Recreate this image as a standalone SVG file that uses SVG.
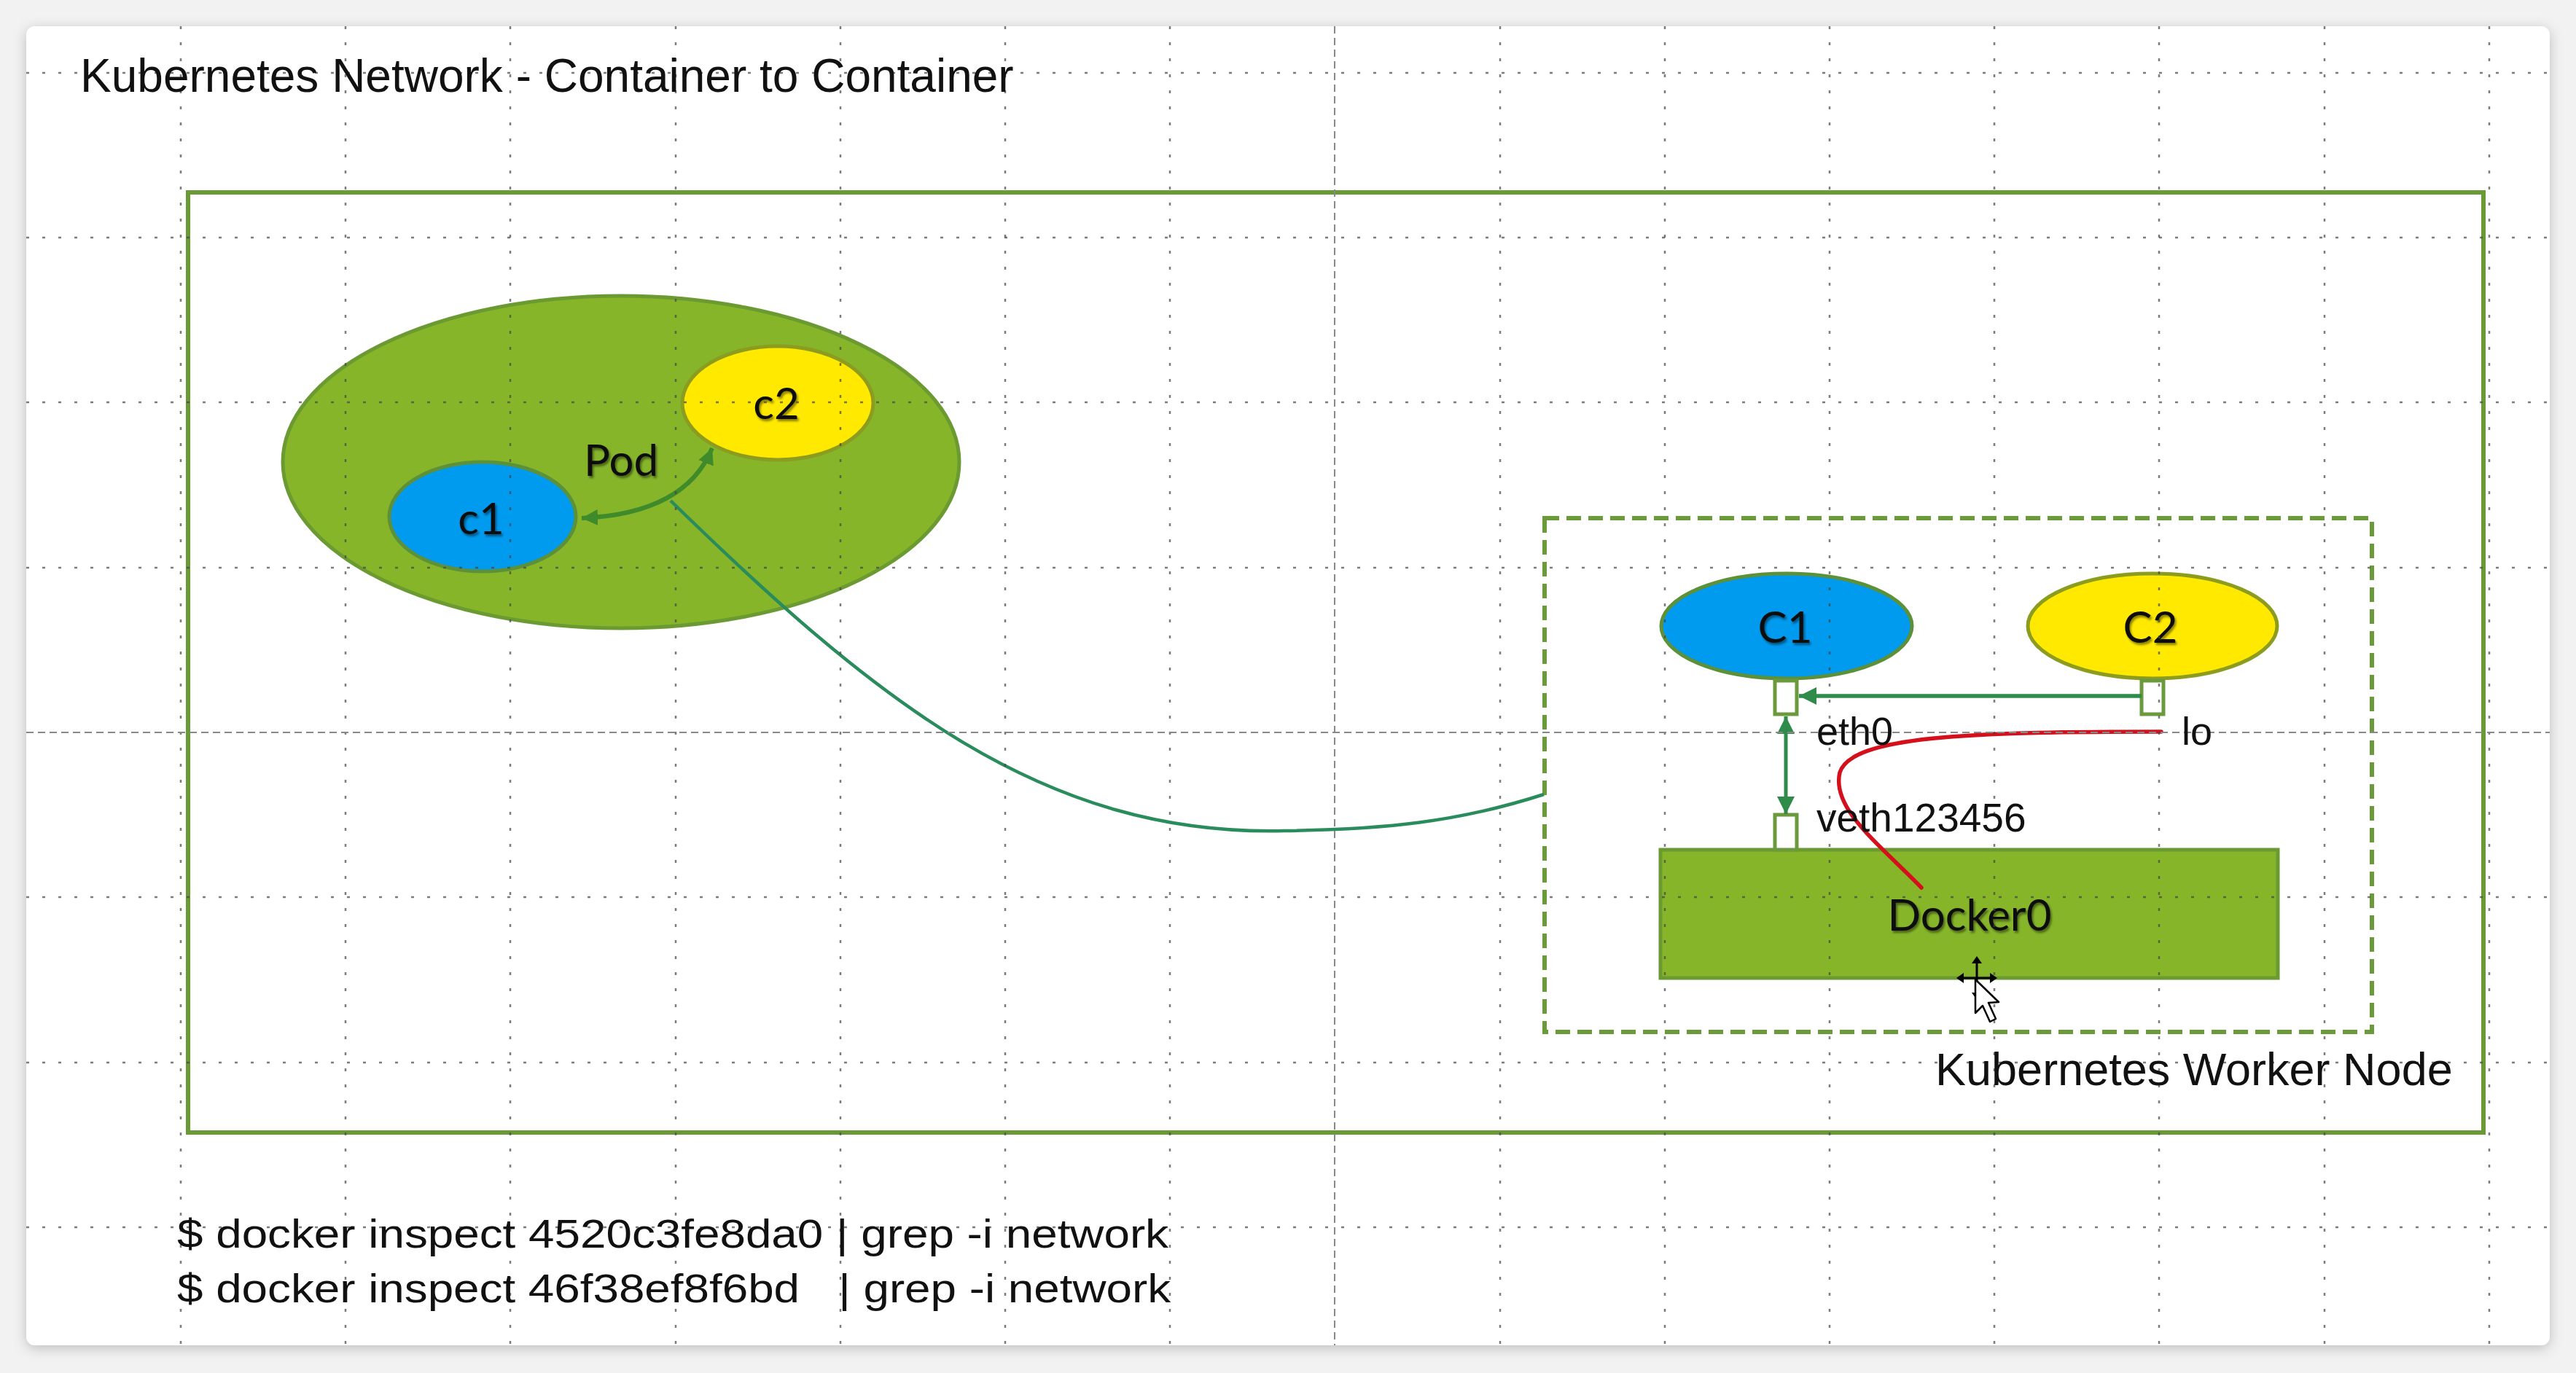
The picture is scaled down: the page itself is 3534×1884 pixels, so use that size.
<svg xmlns="http://www.w3.org/2000/svg" width="3534" height="1884" viewBox="0 0 3534 1884">
<defs>
<filter id="cardShadow" x="-5%" y="-5%" width="110%" height="110%">
<feDropShadow dx="0" dy="4" stdDeviation="9" flood-color="#000" flood-opacity="0.22"/>
</filter>
<filter id="tshadow" x="-20%" y="-20%" width="140%" height="140%">
<feDropShadow dx="2" dy="3" stdDeviation="1.5" flood-color="#000" flood-opacity="0.45"/>
</filter>
<marker id="ah" viewBox="0 0 10 10" refX="10" refY="5" markerWidth="24" markerHeight="24" markerUnits="userSpaceOnUse" orient="auto-start-reverse">
<path d="M0,0 L10,5 L0,10 z" fill="context-stroke"/>
</marker>
<marker id="ahPod" viewBox="0 0 10 10" refX="10" refY="5" markerWidth="22" markerHeight="22" markerUnits="userSpaceOnUse" orient="auto-start-reverse">
<path d="M0,0 L10,5 L0,10 z" fill="#3f8a2a"/>
</marker>
<marker id="ahIn" viewBox="0 0 10 10" refX="10" refY="5" markerWidth="24" markerHeight="24" markerUnits="userSpaceOnUse" orient="auto-start-reverse">
<path d="M0,0 L10,5 L0,10 z" fill="#2e8b4a"/>
</marker>
</defs>
<style>
.lbl{font-family:Lato,"Open Sans","Liberation Sans",sans-serif;font-size:60px;fill:#111;text-anchor:middle}
.txt{font-family:"Liberation Sans",Arial,sans-serif;fill:#111}
.grid{stroke:#444;stroke-opacity:0.7;stroke-width:2.5;stroke-dasharray:4 18;fill:none}
.gridd{stroke:#888;stroke-width:2;stroke-dasharray:10 6;fill:none}
.green{fill:#86b52a;stroke:#6b9a32;stroke-width:5}
.blue{fill:#009aee;stroke:#5c913a;stroke-width:5}
.yellow{fill:#ffe900;stroke:#8c9c1e;stroke-width:5}
.port{fill:#fff;stroke:#6b9a3c;stroke-width:5}
</style>
<rect x="0" y="0" width="3534" height="1884" fill="#f2f2f2"/>
<rect x="36" y="36" width="3462" height="1810" rx="12" fill="#fff" filter="url(#cardShadow)"/>

<g id="node-frame">
<rect x="258" y="264" width="3149" height="1290" fill="none" stroke="#6a9a36" stroke-width="6"/>
</g>

<g id="pod">
<ellipse class="green" cx="852" cy="634" rx="464" ry="228"/>
<text class="lbl" x="852" y="653" filter="url(#tshadow)">Pod</text>
</g>
<g id="pod-c2">
<ellipse class="yellow" cx="1067" cy="553" rx="131" ry="78"/>
<text class="lbl" x="1065" y="575" filter="url(#tshadow)">c2</text>
</g>
<g id="pod-c1">
<ellipse class="blue" cx="662" cy="709" rx="128" ry="75"/>
<text class="lbl" x="660" y="733" filter="url(#tshadow)">c1</text>
</g>

<g id="worker-node">
<rect x="2119" y="711" width="1135" height="705" fill="none" stroke="#6b9a3a" stroke-width="6" stroke-dasharray="20 10"/>
</g>
<g id="worker-C1">
<ellipse class="blue" cx="2451" cy="859" rx="172" ry="72"/>
<text class="lbl" x="2449" y="882" filter="url(#tshadow)">C1</text>
</g>
<g id="worker-C2">
<ellipse class="yellow" cx="2953" cy="859" rx="171" ry="72"/>
<text class="lbl" x="2950" y="882" filter="url(#tshadow)">C2</text>
</g>
<g id="docker0">
<rect class="green" x="2278" y="1166" width="847" height="176"/>
<text class="lbl" x="2702" y="1277" font-size="62" filter="url(#tshadow)">Docker0</text>
</g>
<g id="port-eth0">
<rect class="port" x="2435" y="934" width="30" height="46"/>
</g>
<g id="port-lo">
<rect class="port" x="2938" y="934" width="30" height="46"/>
</g>
<g id="port-veth">
<rect class="port" x="2435" y="1118" width="30" height="48"/>
</g>

<g id="connectors" fill="none">
<path d="M977,615 Q940,705 798,711" stroke="#3f8a2a" stroke-width="6" marker-start="url(#ahPod)" marker-end="url(#ahPod)"/>
<path d="M920,687 C1200,960 1430,1148 1762,1140 C1900,1138 2000,1128 2118,1090" stroke="#2a8c5c" stroke-width="4.5"/>
<line x1="2938" y1="955" x2="2468" y2="955" stroke="#2e8b4a" stroke-width="5.5" marker-end="url(#ahIn)"/>
<line x1="2450" y1="983" x2="2450" y2="1117" stroke="#2e8b4a" stroke-width="5" marker-start="url(#ahIn)" marker-end="url(#ahIn)"/>
<path d="M2965,1004 C2700,1004 2540,1010 2524,1060 C2512,1110 2580,1160 2636,1218" stroke="#d4101c" stroke-width="5.5" stroke-linecap="round"/>
</g>

<g id="grid">
<path class="grid" d="M248,36V1846M474,36V1846M700,36V1846M927,36V1846M1153,36V1846M1379,36V1846M1605,36V1846M2058,36V1846M2284,36V1846M2510,36V1846M2736,36V1846M2962,36V1846M3189,36V1846M3415,36V1846"/>
<path class="grid" d="M36,100H3498M36,326H3498M36,552H3498M36,779H3498M36,1231H3498M36,1458H3498M36,1684H3498"/>
<path class="gridd" d="M1831,36V1846M36,1005H3498"/>
</g>

<g id="cursor">
<path d="M2712,1316 V1368 M2687,1342 H2737" stroke="#000" stroke-width="3"/>
<path d="M2712,1312 l-7,10 h14 z M2712,1372 l-7,-10 h14 z M2684,1342 l10,-7 v14 z M2740,1342 l-10,-7 v14 z" fill="#000"/>
<path d="M2710,1344 L2710,1390 L2720,1380 L2730,1402 L2738,1398 L2728,1376 L2742,1375 Z" fill="#fff" stroke="#000" stroke-width="2.5" stroke-linejoin="round"/>
</g>

<g id="labels">
<text class="txt" x="110" y="126" font-size="64">Kubernetes Network - Container to Container</text>
<text class="txt" x="2492" y="1022" font-size="54">eth0</text>
<text class="txt" x="2993" y="1022" font-size="54">lo</text>
<text class="txt" x="2492" y="1141" font-size="55">veth123456</text>
<text class="txt" x="2655" y="1489" font-size="63">Kubernetes Worker Node</text>
<text class="txt" x="243" y="1712" font-size="56" textLength="1360" lengthAdjust="spacingAndGlyphs" style="white-space:pre">$ docker inspect 4520c3fe8da0 | grep -i network</text>
<text class="txt" x="243" y="1787" font-size="56" textLength="1363" lengthAdjust="spacingAndGlyphs" style="white-space:pre">$ docker inspect 46f38ef8f6bd   | grep -i network</text>
</g>
</svg>
